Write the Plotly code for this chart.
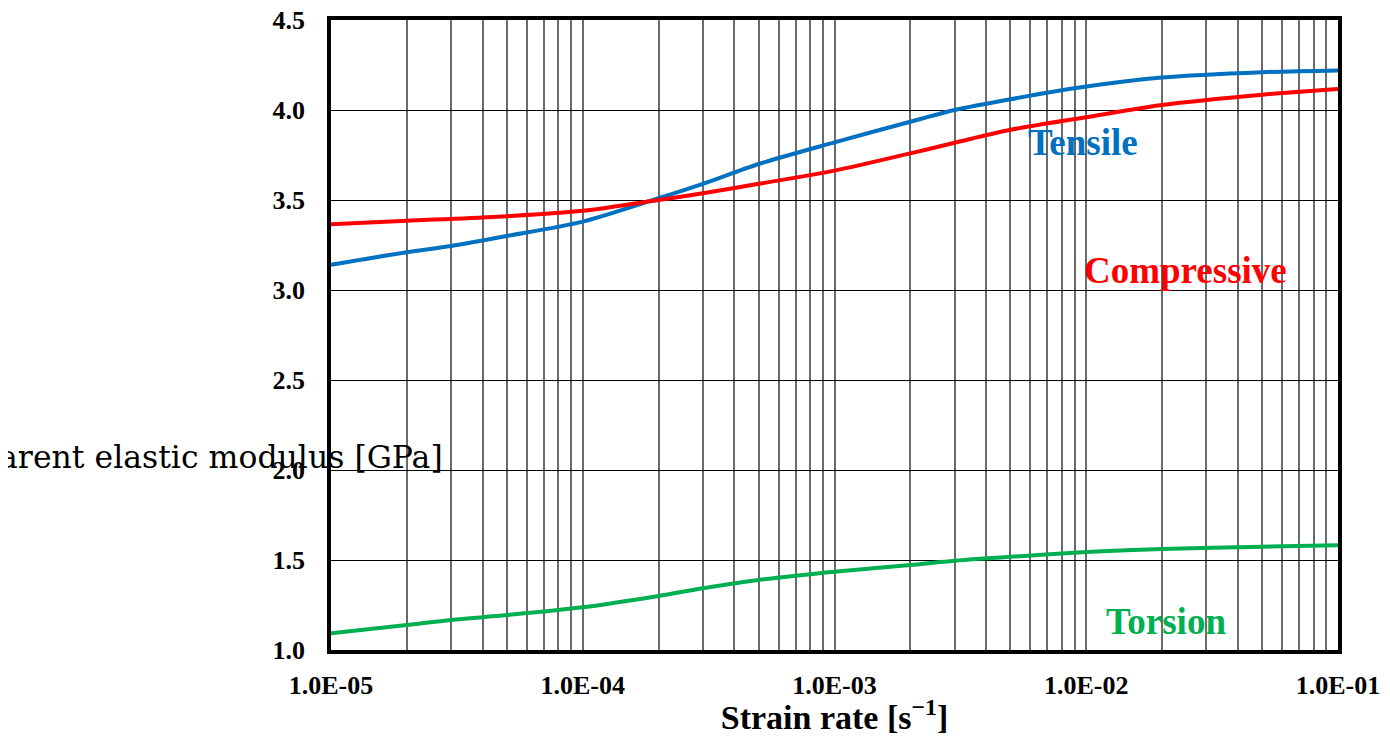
import math
import plotly.graph_objects as go

strain_rate = [1e-5, 2e-5, 3e-5, 5e-5, 1e-4, 2e-4, 3e-4, 5e-4, 1e-3, 2e-3, 3e-3, 5e-3, 1e-2, 2e-2, 5e-2, 1e-1]
tensile = [3.14, 3.21, 3.245, 3.30, 3.38, 3.51, 3.59, 3.70, 3.82, 3.935, 4.0, 4.06, 4.13, 4.18, 4.21, 4.22]
compressive = [3.365, 3.385, 3.395, 3.41, 3.44, 3.50, 3.537, 3.59, 3.663, 3.759, 3.818, 3.89, 3.96, 4.028, 4.085, 4.117]
torsion = [1.093, 1.139, 1.167, 1.194, 1.237, 1.30, 1.343, 1.389, 1.435, 1.472, 1.496, 1.518, 1.544, 1.561, 1.574, 1.582]

series_names = ["Tensile", "Compressive", "Torsion"]
series_colors = ["#0070C0", "#FF0000", "#00B050"]
label_x = [9.7e-3, 2.49e-2, 2.07e-2]
label_y = [3.82, 3.11, 1.16]

x_tickvals = [1e-5, 1e-4, 1e-3, 1e-2, 1e-1]
x_ticktext = ["1.0E-05", "1.0E-04", "1.0E-03", "1.0E-02", "1.0E-01"]
x_minor = [m * d for d in [1e-5, 1e-4, 1e-3, 1e-2] for m in range(2, 10)]
y_tickvals = [1.0, 1.5, 2.0, 2.5, 3.0, 3.5, 4.0, 4.5]
y_ticktext = ["1.0", "1.5", "2.0", "2.5", "3.0", "3.5", "4.0", "4.5"]

fig = go.Figure()
for name, vals, col in zip(series_names, [tensile, compressive, torsion], series_colors):
    fig.add_trace(go.Scatter(x=strain_rate, y=vals, mode="lines", name=name,
                             line=dict(color=col, width=4, shape="spline", smoothing=0.8)))

for name, lx, ly, col in zip(series_names, label_x, label_y, series_colors):
    fig.add_annotation(x=math.log10(lx), y=ly, xref="x", yref="y", text=name, showarrow=False,
                       font=dict(family="Liberation Serif", size=37, color=col, weight="bold"),
                       xanchor="center", yanchor="middle")

# page has an 8px body margin: figure is 1374x728 so it fills the 1390x744 window
fig.add_annotation(x=(437 - 323) / 1007, y=0.307, xref="paper", yref="paper",
                   text="Apparent elastic modulus [GPa]", showarrow=False,
                   xanchor="right", yanchor="middle",
                   font=dict(family="DejaVu Serif", size=31.5, color="black"))

fig.update_xaxes(type="log", range=[-5, -1], tickvals=x_tickvals, ticktext=x_ticktext,
                 showgrid=True, gridcolor="#6a6a6a", gridwidth=1.5,
                 minor=dict(tickvals=x_minor, showgrid=True, gridcolor="#6a6a6a", gridwidth=1.5, ticks=""),
                 showline=True, linecolor="black", linewidth=3.5, mirror=True,
                 ticks="", ticklabelstandoff=9, automargin=False, ticklabeloverflow="allow",
                 tickfont=dict(family="Liberation Serif", size=26, color="black", weight="bold"),
                 title=dict(text="Strain rate [s<sup>−1</sup>]", standoff=22,
                            font=dict(family="Liberation Serif", size=34, color="black", weight="bold")),
                 zeroline=False)
fig.update_yaxes(range=[1.0, 4.5], tickvals=y_tickvals, ticktext=y_ticktext,
                 showgrid=True, gridcolor="black", gridwidth=1,
                 showline=True, linecolor="black", linewidth=3.5, mirror=True,
                 ticks="", ticklabelstandoff=17, automargin=False, ticklabeloverflow="allow",
                 tickfont=dict(family="Liberation Serif", size=26, color="black", weight="bold"),
                 zeroline=False)

fig.update_layout(width=1374, height=728, showlegend=False,
                  margin=dict(l=323, r=44, t=12, b=86),
                  plot_bgcolor="white", paper_bgcolor="white")

fig.write_html("out.html")
